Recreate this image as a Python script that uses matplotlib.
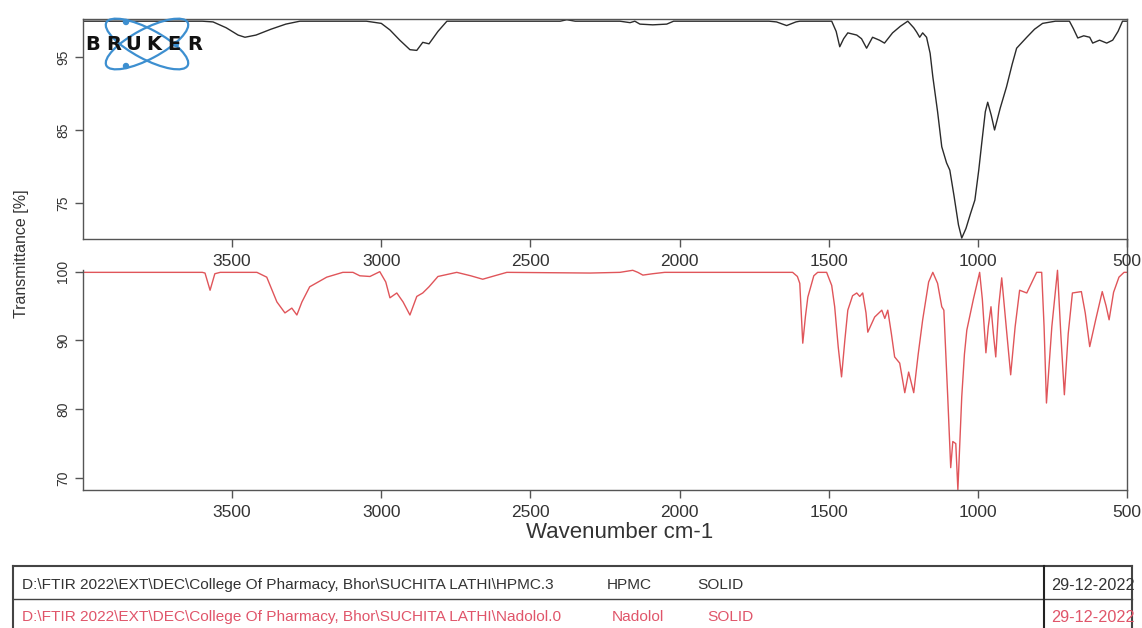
import matplotlib
matplotlib.use("Agg")
import matplotlib.pyplot as plt
from matplotlib.patches import Ellipse, Circle
import numpy as np

plt.rcParams['font.family'] = ['Liberation Sans', 'DejaVu Sans']

# ---------------- data ----------------
hpmc_wn = [4000, 3600, 3564, 3520, 3480, 3457, 3420, 3370, 3320, 3273, 3050, 3000, 2971, 2938,
           2904, 2881, 2861, 2850, 2840, 2810, 2780, 2400, 2378, 2350, 2200, 2166, 2150, 2133,
           2090, 2043, 2020, 1700, 1675, 1641, 1610, 1597, 1490, 1475, 1463, 1450, 1436, 1406,
           1390, 1373, 1353, 1330, 1313, 1286, 1260, 1235, 1215, 1205, 1195, 1185, 1172, 1160,
           1151, 1135, 1121, 1105, 1094, 1080, 1065, 1054, 1040, 1025, 1010, 997, 987, 975, 967,
           955, 944, 925, 904, 885, 870, 836, 810, 783, 740, 693, 680, 665, 645, 625, 615, 592,
           568, 548, 530, 515, 500]
hpmc_t = [99.9, 99.9, 99.8, 99.0, 98.0, 97.7, 98.0, 98.8, 99.5, 99.9, 99.9, 99.6, 98.7, 97.3,
          96.0, 95.9, 97.0, 96.9, 96.8, 98.5, 99.9, 99.9, 100.1, 99.9, 99.9, 99.7, 99.9, 99.5,
          99.4, 99.5, 99.9, 99.9, 99.8, 99.3, 99.8, 99.9, 99.9, 98.5, 96.4, 97.5, 98.3, 98.0,
          97.5, 96.2, 97.7, 97.3, 96.9, 98.3, 99.2, 99.9, 99.0, 98.4, 97.7, 98.3, 97.7, 95.5,
          92.3, 87.5, 82.7, 80.5, 79.5, 76.0, 72.0, 70.2, 71.5, 73.5, 75.4, 79.5, 83.2, 87.5, 88.8,
          87.0, 85.0, 88.0, 90.9, 94.0, 96.2, 97.7, 98.8, 99.6, 99.9, 99.9, 98.9, 97.6, 97.9, 97.7,
          96.9, 97.3, 96.9, 97.3, 98.5, 99.9, 99.9]

nad_wn = [4000, 3600, 3591, 3574, 3558, 3540, 3417, 3384, 3350, 3323, 3300, 3283, 3266, 3240,
          3183, 3129, 3095, 3072, 3038, 3005, 2985, 2971, 2948, 2927, 2904, 2881, 2861, 2840,
          2810, 2747, 2700, 2660, 2620, 2579, 2300, 2200, 2157, 2140, 2123, 2090, 2050, 1700,
          1621, 1605, 1597, 1587, 1578, 1570, 1550, 1537, 1507, 1490, 1480, 1468, 1457, 1446,
          1436, 1420, 1406, 1396, 1386, 1375, 1369, 1346, 1322, 1312, 1302, 1290, 1279, 1262,
          1245, 1232, 1215, 1200, 1185, 1165, 1151, 1135, 1121, 1114, 1101, 1091, 1084, 1074,
          1067, 1054, 1045, 1037, 1015, 994, 985, 973, 965, 956, 948, 940, 930, 920, 905, 890,
          875, 860, 836, 803, 786, 778, 770, 752, 733, 722, 710, 697, 683, 653, 640, 625, 605,
          583, 570, 560, 545, 527, 510, 500]
nad_t = [99.9, 99.9, 99.8, 97.3, 99.7, 99.9, 99.9, 99.2, 95.6, 94.0, 94.7, 93.7, 95.6, 97.8,
         99.2, 99.9, 99.9, 99.4, 99.3, 100.0, 98.5, 96.2, 96.9, 95.6, 93.7, 96.4, 96.9, 97.8,
         99.3, 99.9, 99.4, 98.9, 99.4, 99.9, 99.8, 99.9, 100.2, 99.9, 99.5, 99.7, 99.9, 99.9,
         99.9, 99.3, 98.3, 89.6, 93.5, 96.3, 99.4, 99.9, 99.9, 98.0, 94.9, 89.0, 84.7, 90.0,
         94.4, 96.5, 96.9, 96.4, 96.9, 94.0, 91.2, 93.4, 94.4, 93.2, 94.4, 91.0, 87.6, 86.7,
         82.4, 85.4, 82.4, 88.0, 93.0, 98.5, 99.9, 98.3, 94.9, 94.4, 81.8, 71.5, 75.3, 75.0,
         68.3, 81.8, 88.0, 91.5, 96.0, 99.9, 96.0, 88.2, 92.0, 94.9, 91.0, 87.6, 95.0, 99.1, 92.0, 85.0,
         92.0, 97.3, 96.9, 99.9, 99.9, 92.0, 80.9, 92.0, 100.2, 91.0, 82.1, 91.0, 96.9, 97.1, 94.0, 89.1, 93.0,
         97.1, 95.0, 93.0, 97.0, 99.2, 99.9, 99.9]

x_ticks = [3500, 3000, 2500, 2000, 1500, 1000, 500]
top_yticks = [75, 85, 95]
bot_yticks = [70, 80, 90, 100]

row_paths = ["D:\\FTIR 2022\\EXT\\DEC\\College Of Pharmacy, Bhor\\SUCHITA LATHI\\HPMC.3",
             "D:\\FTIR 2022\\EXT\\DEC\\College Of Pharmacy, Bhor\\SUCHITA LATHI\\Nadolol.0"]
row_names = ["HPMC", "Nadolol"]
row_state = ["SOLID", "SOLID"]
row_dates = ["29-12-2022", "29-12-2022"]

# ---------------- figure ----------------
W, H = 1142, 628
fig = plt.figure(figsize=(W / 100, H / 100), dpi=100)
fig.patch.set_facecolor('white')

def rect(x0, y0, x1, y1):
    return [x0 / W, 1 - y1 / H, (x1 - x0) / W, (y1 - y0) / H]

spine_c = '#555555'
tick_c = '#333333'
black_c = '#2b2b2b'
red_c = '#e0555a'

ax2 = fig.add_axes(rect(83, 239, 1127, 490))
ax1 = fig.add_axes(rect(83, 19, 1127, 239))
ax2.patch.set_visible(False)
ax1.patch.set_visible(False)

ax1.plot(hpmc_wn, hpmc_t, color=black_c, lw=1.0)
ax2.plot(nad_wn, nad_t, color=red_c, lw=1.0)

for ax in (ax1, ax2):
    ax.set_xlim(4000, 500)
    ax.set_xticks(x_ticks)
    for s in ax.spines.values():
        s.set_color(spine_c)
        s.set_linewidth(1.0)
    ax.tick_params(axis='both', direction='out', length=6, width=1.0, color=spine_c,
                   labelcolor=tick_c)
    ax.tick_params(axis='x', labelsize=12.5, pad=5)
    ax.tick_params(axis='y', labelsize=10, pad=3)

ax1.set_ylim(70.07, 100.2)
ax1.set_yticks(top_yticks)
ax2.set_ylim(68.25, 104.75)
ax2.set_yticks(bot_yticks)
ax2.spines['top'].set_visible(False)
ax2.spines['left'].set_bounds(68.25, 100.25)

for ax in (ax1, ax2):
    for lab in ax.get_yticklabels():
        lab.set_rotation(90)
        lab.set_va('center')

fig.text(620 / W, 1 - 533 / H, "Wavenumber cm-1", fontsize=16, color=tick_c,
         ha='center', va='center')
fig.text(22 / W, 1 - 254 / H, "Transmittance [%]", rotation=90, fontsize=11.5,
         color=tick_c, ha='center', va='center')

# ---------------- overlay (logo + table) ----------------
ov = fig.add_axes([0, 0, 1, 1])
ov.set_xlim(0, W)
ov.set_ylim(H, 0)
ov.axis('off')

blue = '#3d8fd0'
ov.add_patch(Ellipse((147, 44), 92, 30, angle=28, fill=False, ec=blue, lw=1.6, zorder=3))
ov.add_patch(Ellipse((147, 44), 92, 30, angle=-28, fill=False, ec=blue, lw=1.6, zorder=3))
for cx, cy in [(126, 22), (126, 66), (176, 44)]:
    ov.add_patch(Circle((cx, cy), 2.5, color=blue, zorder=3))
letters = "BRUKER"
for i, ch in enumerate(letters):
    ov.text(93 + i * 20.3, 44, ch, fontsize=14, fontweight='heavy', family='DejaVu Sans',
            color='#111111', ha='center', va='center', zorder=4)

# table
lc = '#444444'
ty0, tdiv, tbot = 566, 599, 640
ov.plot([13, 1132], [ty0, ty0], color=lc, lw=1.5)
ov.plot([13, 13], [ty0, tbot], color=lc, lw=1.5)
ov.plot([1132, 1132], [ty0, tbot], color=lc, lw=1.5)
ov.plot([13, 1132], [tdiv, tdiv], color=lc, lw=1.0)
ov.plot([1044, 1044], [ty0, tbot], color='#222222', lw=1.5)

# calibrate table font so that path string spans the measured width
probe = ov.text(22, 585, row_paths[0], fontsize=10)
fig.canvas.draw()
bb = probe.get_window_extent()
probe.remove()
tfs = 10 * (536 / bb.width)

row_y = [585, 617]
row_col = ['#333333', '#e0556a']
name_x = [607, 612]
state_x = [697, 707]
for i in range(2):
    ov.text(22, row_y[i], row_paths[i], fontsize=tfs, color=row_col[i], va='center', ha='left')
    ov.text(name_x[i], row_y[i], row_names[i], fontsize=tfs, color=row_col[i], va='center')
    ov.text(state_x[i], row_y[i], row_state[i], fontsize=tfs, color=row_col[i], va='center')
    ov.text(1051, row_y[i], row_dates[i], fontsize=tfs * 1.05, color=row_col[i], va='center',
            clip_on=True)

fig.savefig("out.png", dpi=100, facecolor='white')
